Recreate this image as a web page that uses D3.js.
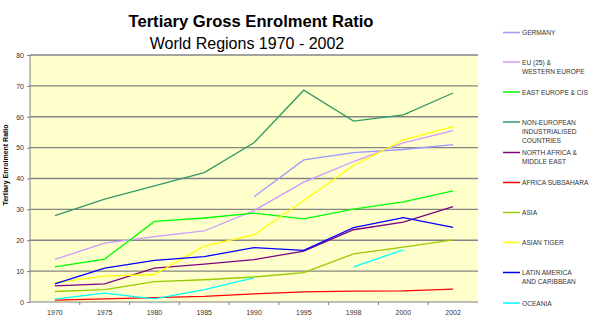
<!DOCTYPE html>
<html>
<head>
<meta charset="utf-8">
<script src="https://cdn.jsdelivr.net/npm/d3@7"></script>
<style>
  body { margin: 0; background: #fff; }
  svg text { font-family: Arial, "Liberation Sans", sans-serif; }
</style>
</head>
<body>
<div id="chart"></div>
<script>
const width = 600;
const height = 323;

// categories
const years = ["1970", "1975", "1980", "1985", "1990", "1995", "1998", "2000", "2002"];
const yTicks = [0, 10, 20, 30, 40, 50, 60, 70, 80];

// series values (null = no data)
const germany      = [null, null, null, null, 34.1, 46.0, 48.4, 49.4, 51.0];
const euWestern    = [13.8, 19.1, 21.2, 23.0, 29.6, 38.8, 45.5, 51.5, 55.5];
const eastEurope   = [11.4, 13.9, 26.1, 27.2, 28.8, 26.9, 30.1, 32.4, 36.0];
const nonEuropean  = [28.0, 33.3, 37.6, 41.9, 51.6, 68.6, 58.6, 60.6, 67.7];
const northAfrica  = [5.2, 5.9, 11.0, 12.3, 13.7, 16.5, 23.4, 25.9, 30.9];
const africaSub    = [0.6, 1.0, 1.4, 1.8, 2.6, 3.3, 3.5, 3.6, 4.2];
const asia         = [3.4, 4.0, 6.6, 7.2, 8.1, 9.5, 15.6, 17.8, 20.1];
const asianTiger   = [6.3, 8.4, 8.9, 18.1, 21.7, 32.9, 44.2, 52.5, 56.8];
const latinAmerica = [5.9, 11.0, 13.5, 14.7, 17.6, 16.7, 24.1, 27.3, 24.2];
const oceania      = [0.9, 2.9, 1.0, 4.0, 7.8, null, 11.4, 16.9, null];

const seriesNames = ["GERMANY", "EU (25) &\nWESTERN EUROPE", "EAST EUROPE & CIS",
  "NON-EUROPEAN\nINDUSTRIALISED\nCOUNTRIES", "NORTH AFRICA &\nMIDDLE EAST", "AFRICA SUBSAHARA",
  "ASIA", "ASIAN TIGER", "LATIN AMERICA\nAND CARIBBEAN", "OCEANIA"];
const seriesValues = [germany, euWestern, eastEurope, nonEuropean, northAfrica,
  africaSub, asia, asianTiger, latinAmerica, oceania];
const seriesColors = ["#9999ff", "#cc99ff", "#00ff00", "#339966", "#800080",
  "#ff0000", "#99cc00", "#ffff00", "#0000ff", "#00ffff"];

const plot = { left: 30, right: 478, top: 55, bottom: 302 };

const svg = d3.select("#chart").append("svg")
  .attr("width", width)
  .attr("height", height);

// titles
svg.append("text")
  .attr("x", 251).attr("y", 27)
  .attr("text-anchor", "middle")
  .attr("font-size", 16.6).attr("font-weight", "bold")
  .text("Tertiary Gross Enrolment Ratio");

svg.append("text")
  .attr("x", 247).attr("y", 49)
  .attr("text-anchor", "middle")
  .attr("font-size", 16)
  .text("World Regions 1970 - 2002");

// scales
const x = d3.scaleBand()
  .domain(years)
  .range([plot.left, plot.right]);

const y = d3.scaleLinear()
  .domain([0, 80])
  .range([plot.bottom, plot.top]);

// plot background
svg.append("rect")
  .attr("x", plot.left).attr("y", plot.top)
  .attr("width", plot.right - plot.left)
  .attr("height", plot.bottom - plot.top)
  .attr("fill", "#ffffcc");

// gridlines
svg.append("g")
  .selectAll("line")
  .data(yTicks.slice(1))
  .join("line")
    .attr("x1", plot.left).attr("x2", plot.right)
    .attr("y1", d => y(d)).attr("y2", d => y(d))
    .attr("stroke", "#858585")
    .attr("stroke-width", 1.3);

// y axis
const yAxis = d3.axisLeft(y)
  .tickValues(yTicks)
  .tickSize(3)
  .tickPadding(3);

const gy = svg.append("g")
  .attr("transform", "translate(" + plot.left + ",0)")
  .call(yAxis);
gy.select(".domain").attr("stroke", "#808080").attr("d", "M0," + plot.top + "V" + plot.bottom);
gy.selectAll(".tick line").attr("stroke", "#808080");
gy.selectAll(".tick text").attr("font-size", 7).attr("fill", "#333")
  .attr("font-family", "Arial, 'Liberation Sans', sans-serif");

// x axis, ticks on band boundaries
const xAxis = d3.axisBottom(x)
  .tickSize(0)
  .tickPadding(8);

const gx = svg.append("g")
  .attr("transform", "translate(0," + plot.bottom + ")")
  .call(xAxis);
gx.select(".domain").attr("stroke", "#808080").attr("d", "M" + plot.left + ",0H" + plot.right);
gx.selectAll(".tick text").attr("font-size", 7).attr("fill", "#333")
  .attr("font-family", "Arial, 'Liberation Sans', sans-serif");

gx.append("g")
  .selectAll("line")
  .data(years.slice(1))
  .join("line")
    .attr("x1", d => x(d)).attr("x2", d => x(d))
    .attr("y1", 0).attr("y2", 3)
    .attr("stroke", "#808080");

// y axis title
svg.append("text")
  .attr("transform", "translate(8," + 165 + ") rotate(-90)")
  .attr("text-anchor", "middle")
  .attr("font-size", 7).attr("font-weight", "bold")
  .text("Tertiary Enrolment Ratio");

// lines
const line = d3.line()
  .defined(d => d != null)
  .x((d, i) => x(years[i]) + x.bandwidth() / 2)
  .y(d => y(d));

svg.append("g")
  .selectAll("path")
  .data(seriesValues)
  .join("path")
    .attr("fill", "none")
    .attr("stroke", (d, i) => seriesColors[i])
    .attr("stroke-width", 1.3)
    .attr("d", d => line(d));

// legend
const legendY = [32.5, 62, 92, 122, 152.5, 182.5, 212.5, 242.5, 272.5, 303];

const legend = svg.append("g")
  .selectAll("g")
  .data(seriesNames)
  .join("g")
    .attr("transform", (d, i) => "translate(503," + legendY[i] + ")");

legend.append("line")
  .attr("x1", 0).attr("x2", 17)
  .attr("stroke", (d, i) => seriesColors[i])
  .attr("stroke-width", 1.5);

legend.append("text")
  .attr("x", 19)
  .attr("y", 2.5)
  .attr("font-size", 6.6)
  .attr("fill", "#333")
  .selectAll("tspan")
  .data(d => d.split("\n"))
  .join("tspan")
    .attr("x", 19)
    .attr("dy", (d, i) => i === 0 ? 0 : 9.2)
    .text(d => d);
</script>
</body>
</html>
